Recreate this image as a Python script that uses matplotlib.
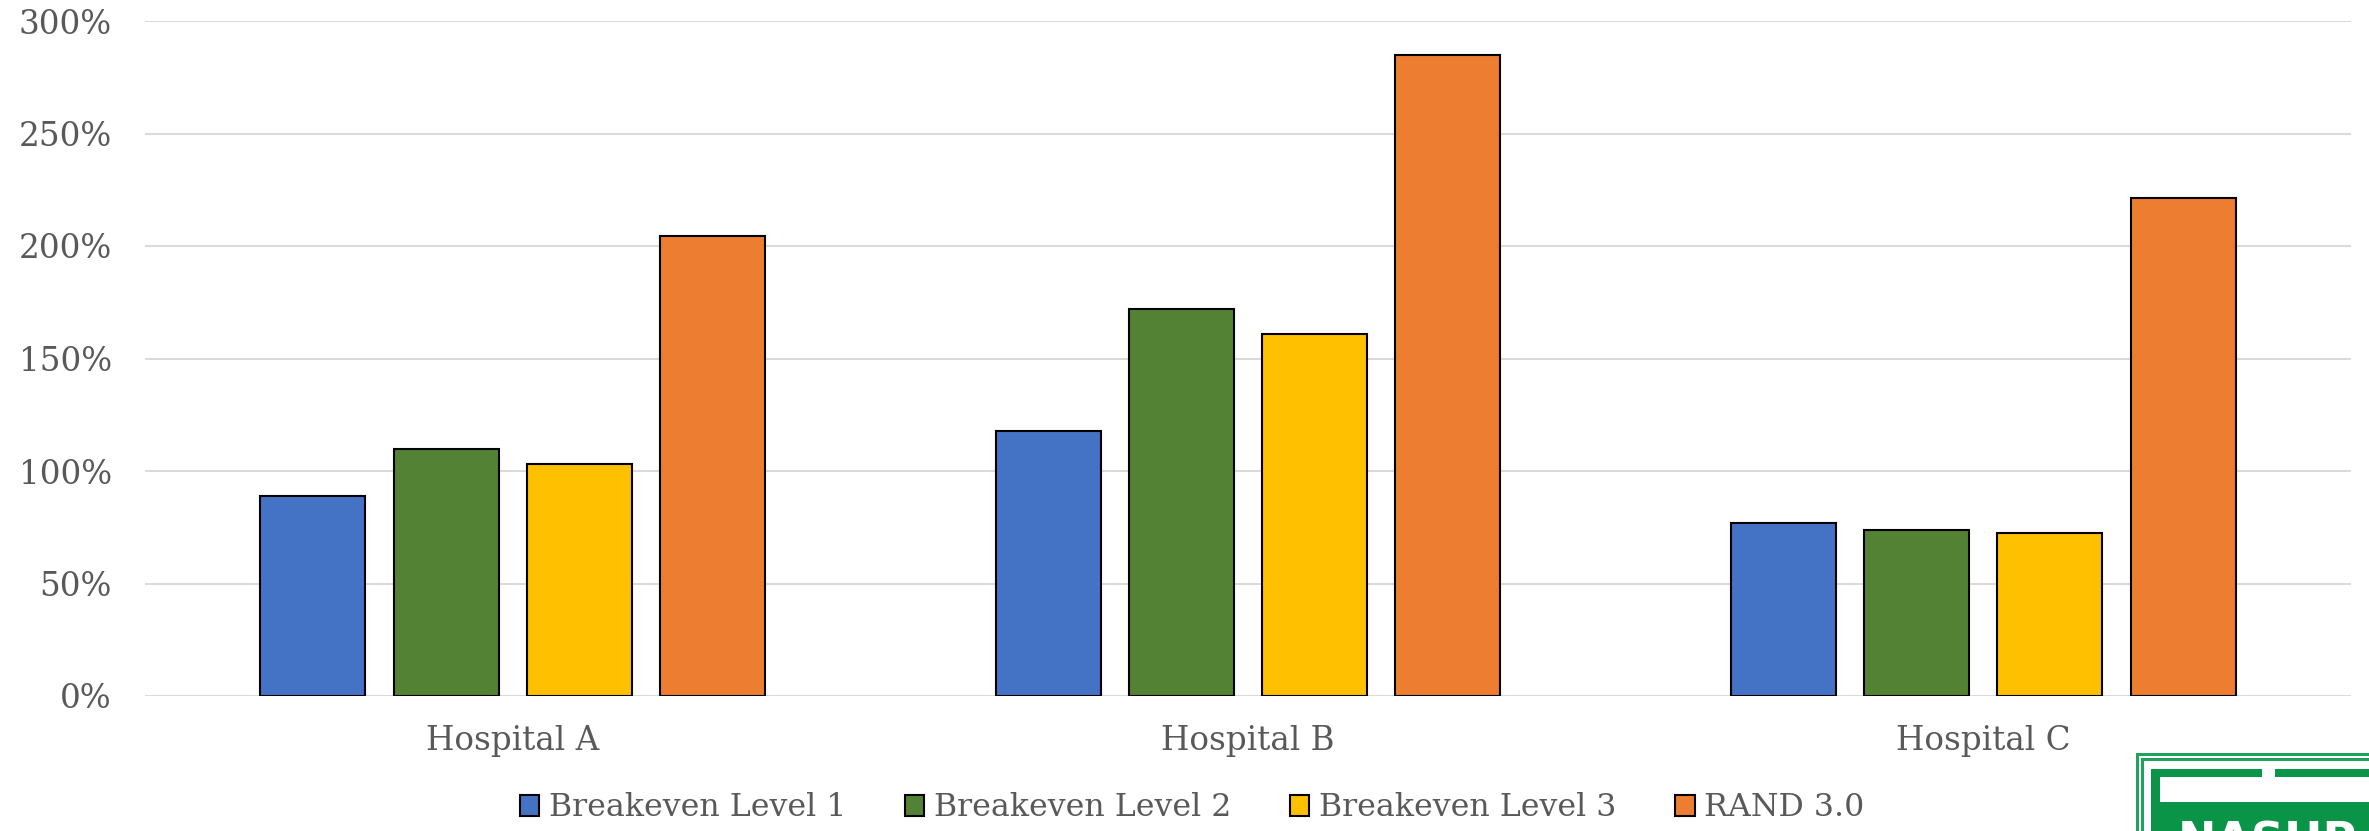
import matplotlib
matplotlib.use("Agg")
import matplotlib.pyplot as plt
from matplotlib.patches import Patch, Rectangle
import numpy as np

# Chart data (percent)
hospitals = ["Hospital A", "Hospital B", "Hospital C"]
series_names = ["Breakeven Level 1", "Breakeven Level 2", "Breakeven Level 3", "RAND 3.0"]
breakeven_1 = [89, 118, 77]
breakeven_2 = [110, 172, 74]
breakeven_3 = [103, 161, 72.5]
rand_3 = [204.5, 285, 221.5]
y_ticks = [0, 50, 100, 150, 200, 250, 300]

series_values = [breakeven_1, breakeven_2, breakeven_3, rand_3]
colors = ["#4472C4", "#548235", "#FFC000", "#ED7D31"]
text_color = "#595959"
grid_color = "#D9D9D9"
font = "DejaVu Serif"

W, H = 2369, 831
fig = plt.figure(figsize=(W / 100, H / 100), dpi=100)
fig.patch.set_facecolor("white")

ax = fig.add_axes([145 / W, 1 - 696 / H, (2351 - 145) / W, (696 - 21) / H])

x = np.arange(len(hospitals))
step = 0.1813
width = 0.1428
for i, (vals, col) in enumerate(zip(series_values, colors)):
    ax.bar(x + (i - 1.5) * step, vals, width=width, color=col,
           edgecolor="black", linewidth=1.5, zorder=3)

ax.set_xlim(-0.5, len(hospitals) - 0.5)
ax.set_ylim(0, 300)
ax.set_yticks(y_ticks)
ax.set_yticklabels([f"{t}%" for t in y_ticks])
ax.set_xticks(x)
ax.set_xticklabels(hospitals)

ax.yaxis.grid(True, color=grid_color, linewidth=1.4, zorder=0)
ax.set_axisbelow(True)
for s in ax.spines.values():
    s.set_visible(False)
ax.tick_params(axis="both", length=0, labelcolor=text_color, labelsize=23.5)
ax.tick_params(axis="y", pad=24)
ax.tick_params(axis="x", pad=21)
for lab in ax.get_xticklabels() + ax.get_yticklabels():
    lab.set_fontfamily(font)

handles = [Patch(facecolor=c, edgecolor="black", linewidth=1.5) for c in colors]
leg = fig.legend(handles, series_names, loc="center", ncol=4,
                 bbox_to_anchor=(1192 / W, 1 - 808 / H), frameon=False,
                 prop={"family": font, "size": 22.8},
                 handlelength=0.62, handleheight=0.62, handletextpad=0.3,
                 columnspacing=1.85, borderpad=0)
for t in leg.get_texts():
    t.set_color(text_color)

# Logo badge in the lower right corner (partly cut off by the page edge)
green = "#0A9447"
light_green = "#1FA35A"


def fr(px, py):
    return px / W, 1 - py / H


def rect(x0, y0, x1, y1, color, **kw):
    fx0, fy1 = fr(x0, y1)
    fig.patches.append(Rectangle((fx0, fy1), (x1 - x0) / W, (y1 - y0) / H,
                                 transform=fig.transFigure, facecolor=color,
                                 edgecolor="none", **kw))


rect(2136, 753, 2400, 860, light_green)
rect(2139, 756, 2400, 860, "white")
rect(2141, 758, 2400, 860, light_green)
rect(2144, 761, 2400, 860, "white")
rect(2151, 769, 2400, 860, green)
rect(2160, 777, 2400, 802, "white")
rect(2262, 769, 2275, 777, "white")
fx, fy = fr(2178, 855)
fig.text(fx, fy, "NASHP", color="white", fontsize=33, fontweight="bold",
         family="DejaVu Sans", ha="left", va="baseline")

fig.savefig("out.png", dpi=100, facecolor="white")
